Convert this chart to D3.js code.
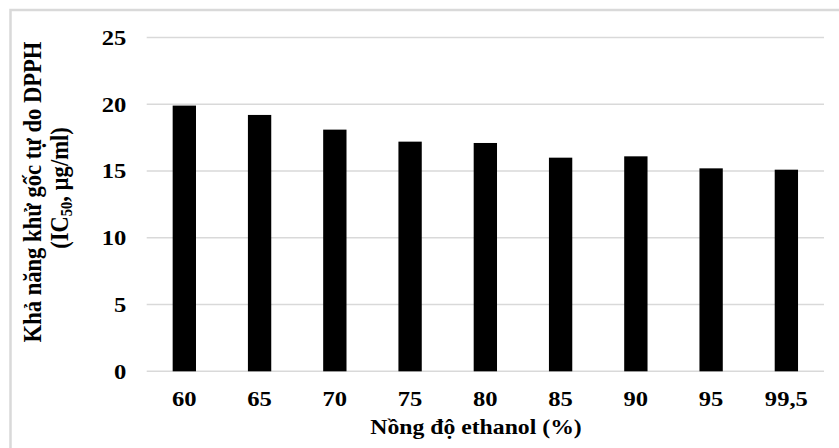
<!DOCTYPE html>
<html><head><meta charset="utf-8">
<script src="https://cdn.jsdelivr.net/npm/d3@7"></script>
<style>html,body{margin:0;padding:0;background:#fff;}svg{display:block;}</style>
</head><body>
<script>
const categories = ["60","65","70","75","80","85","90","95","99,5"];
const values = [19.9, 19.2, 18.1, 17.2, 17.1, 16.0, 16.1, 15.2, 15.1];
const yTicks = [0, 5, 10, 15, 20, 25];
const xTitle = "Nồng độ ethanol (%)";
const yTitle1 = "Khả năng khử gốc tự do DPPH";

const W = 839, H = 448;
const FONT = "'Liberation Serif','Times New Roman',serif";
const svg = d3.select("body").append("svg").attr("width", W).attr("height", H)
  .style("font-family", FONT).style("font-weight", "bold");

svg.append("rect").attr("x", 10.5).attr("y", 10).attr("width", 840).attr("height", 450)
  .attr("fill", "none").attr("stroke", "#d9d9d9").attr("stroke-width", 2.5);

const m = {left: 146.7, right: 824, top: 37.5, bottom: 371.3};
const x = d3.scaleBand().domain(categories).range([m.left, m.right]).paddingInner(0.69).paddingOuter(0.345);
const y = d3.scaleLinear().domain([0, 25]).range([m.bottom, m.top]);

// gridlines
svg.append("g").selectAll("line").data(yTicks).join("line")
  .attr("x1", m.left).attr("x2", m.right)
  .attr("y1", d => y(d)).attr("y2", d => y(d))
  .attr("stroke", "#d9d9d9").attr("stroke-width", 1.5);

// bars
svg.append("g").selectAll("rect").data(values).join("rect")
  .attr("x", (d, i) => x(categories[i])).attr("width", x.bandwidth())
  .attr("y", d => y(d)).attr("height", d => y(0) - y(d))
  .attr("fill", "#000");

// y axis
const ya = svg.append("g").attr("transform", `translate(${m.left},0)`)
  .call(d3.axisLeft(y).tickValues(yTicks).tickSize(0).tickPadding(17));
ya.attr("font-family", FONT).attr("font-size", 20.5);
ya.select(".domain").remove();
ya.selectAll("text").attr("fill", "#000")
  .attr("transform", "scale(1.2,1)").attr("dy", "0.34em");

// x axis
const xa = svg.append("g").attr("transform", `translate(0,${m.bottom})`)
  .call(d3.axisBottom(x).tickSize(0).tickPadding(20));
xa.attr("font-family", FONT).attr("font-size", 20.5);
xa.select(".domain").remove();
xa.selectAll("text").attr("fill", "#000")
  .attr("transform", "scale(1.2,1)");

// x title
svg.append("text").attr("transform", "translate(476,434) scale(1.13,1)")
  .attr("text-anchor", "middle").attr("font-size", 21).text(xTitle);

// y title
svg.append("text").attr("transform", "translate(41,192) rotate(-90) scale(1,1.12)")
  .attr("text-anchor", "middle").attr("font-size", 22.6).text(yTitle1);
const t2 = svg.append("text").attr("transform", "translate(68,188) rotate(-90) scale(1,1.12)")
  .attr("text-anchor", "middle").attr("font-size", 22.6);
t2.append("tspan").text("(IC");
t2.append("tspan").attr("font-size", 14.5).attr("dy", 4).text("50");
t2.append("tspan").attr("dy", -4).text(", µg/ml)");
</script>
</body></html>
